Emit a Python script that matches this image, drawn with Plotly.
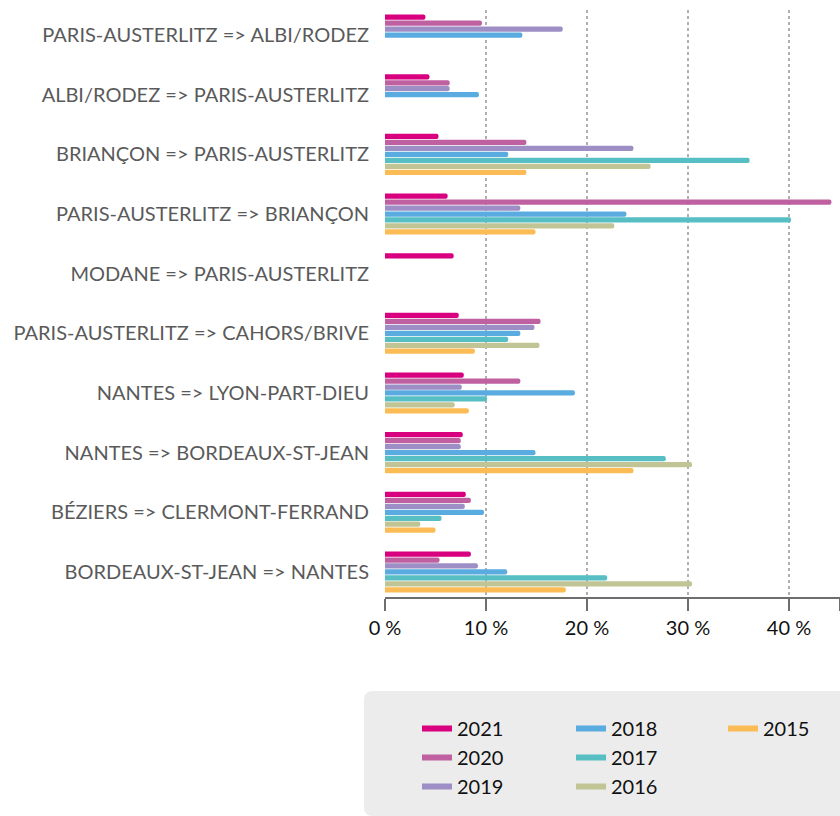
import plotly.graph_objects as go

routes = [
    "PARIS-AUSTERLITZ => ALBI/RODEZ",
    "ALBI/RODEZ => PARIS-AUSTERLITZ",
    "BRIANÇON => PARIS-AUSTERLITZ",
    "PARIS-AUSTERLITZ => BRIANÇON",
    "MODANE => PARIS-AUSTERLITZ",
    "PARIS-AUSTERLITZ => CAHORS/BRIVE",
    "NANTES => LYON-PART-DIEU",
    "NANTES => BORDEAUX-ST-JEAN",
    "BÉZIERS => CLERMONT-FERRAND",
    "BORDEAUX-ST-JEAN => NANTES",
]

years = ["2021", "2020", "2019", "2018", "2017", "2016", "2015"]

v2021 = [4.0, 4.4, 5.3, 6.2, 6.8, 7.3, 7.8, 7.7, 8.0, 8.5]
v2020 = [9.6, 6.4, 14.0, 44.2, None, 15.4, 13.4, 7.5, 8.5, 5.4]
v2019 = [17.6, 6.4, 24.6, 13.4, None, 14.8, 7.6, 7.5, 7.9, 9.2]
v2018 = [13.6, 9.3, 12.2, 23.9, None, 13.4, 18.8, 14.9, 9.8, 12.1]
v2017 = [None, None, 36.1, 40.2, None, 12.2, 10.1, 27.8, 5.6, 22.0]
v2016 = [None, None, 26.3, 22.7, None, 15.3, 6.9, 30.4, 3.5, 30.4]
v2015 = [None, None, 14.0, 14.9, None, 8.9, 8.3, 24.6, 5.0, 17.9]

series = [v2021, v2020, v2019, v2018, v2017, v2016, v2015]
colors = ["#d8007f", "#bf60a0", "#9d8fc6", "#5aabe0", "#57bec3", "#c1c595", "#fbbc55"]

tick_vals = [0, 10, 20, 30, 40, 45]
tick_text = ["0 %", "10 %", "20 %", "30 %", "40 %", ""]

legend_of = ["legend", "legend", "legend", "legend2", "legend2", "legend2", "legend3"]

fig = go.Figure()
for yr, vals, col in zip(years, series, colors):
    fig.add_trace(go.Bar(
        y=routes, x=vals, orientation="h", name=yr,
        marker=dict(color=col, cornerradius=3, line=dict(width=0)),
        showlegend=False, hoverinfo="x+y",
    ))
for yr, col, lg in zip(years, colors, legend_of):
    fig.add_trace(go.Scatter(
        x=[None], y=[None], mode="lines", name=yr,
        line=dict(color=col, width=6), legend=lg, showlegend=True,
    ))

W, H = 840, 816
ml, mr, mt, mb = 385, 0, 10, 219
pw, ph = W - ml - mr, H - mt - mb

# legend background box (rounded rect in paper coords)
bx0, by0 = 364, 691
bx1, by1 = 860, 816
r = 9
def px(x):
    return (x - ml) / pw
def py(y):
    return (H - mb - y) / ph
path = (
    f"M {px(bx0 + r)},{py(by0)} L {px(bx1)},{py(by0)} L {px(bx1)},{py(by1)} "
    f"L {px(bx0 + r)},{py(by1)} Q {px(bx0)},{py(by1)} {px(bx0)},{py(by1 - r)} "
    f"L {px(bx0)},{py(by0 + r)} Q {px(bx0)},{py(by0)} {px(bx0 + r)},{py(by0)} Z"
)
fig.add_shape(type="path", path=path, xref="paper", yref="paper",
              fillcolor="#ececec", line=dict(width=0), layer="below")

legend_font = dict(family="Lato, sans-serif", size=20, color="#111111")
common_leg = dict(orientation="v", xanchor="left", yanchor="top",
                  bgcolor="rgba(0,0,0,0)", font=legend_font,
                  itemwidth=30, tracegroupgap=0, itemclick=False)

fig.update_layout(
    width=W, height=H,
    margin=dict(l=ml, r=mr, t=mt, b=mb, pad=0),
    paper_bgcolor="white", plot_bgcolor="white",
    barmode="group", bargap=0.3, bargroupgap=0.12,
    font=dict(family="Lato, sans-serif"),
    xaxis=dict(
        range=[0, 45.05], tickvals=tick_vals, ticktext=tick_text,
        showgrid=True, gridcolor="#b0b0b0", griddash="dot", gridwidth=1.5,
        zeroline=False, showline=True, linecolor="#6e6e6e", linewidth=2,
        ticks="outside", ticklen=12, tickwidth=2, tickcolor="#6e6e6e",
        tickfont=dict(family="Lato, sans-serif", size=20, color="#111111"),
        fixedrange=True,
    ),
    yaxis=dict(
        type="category", categoryorder="array", categoryarray=routes,
        range=[9.42, -0.42], showgrid=False, zeroline=False, showline=False,
        ticks="outside", ticklen=11, tickcolor="rgba(0,0,0,0)",
        tickfont=dict(family="Lato, sans-serif", size=20, color="#5a5a5a"),
        fixedrange=True,
    ),
    legend=dict(x=px(417), y=py(709), **common_leg),
    legend2=dict(x=px(571), y=py(709), **common_leg),
    legend3=dict(x=px(723), y=py(709), **common_leg),
)

fig.write_html("out.html", config={"displayModeBar": False},
               post_script="document.body.style.margin='0';")
